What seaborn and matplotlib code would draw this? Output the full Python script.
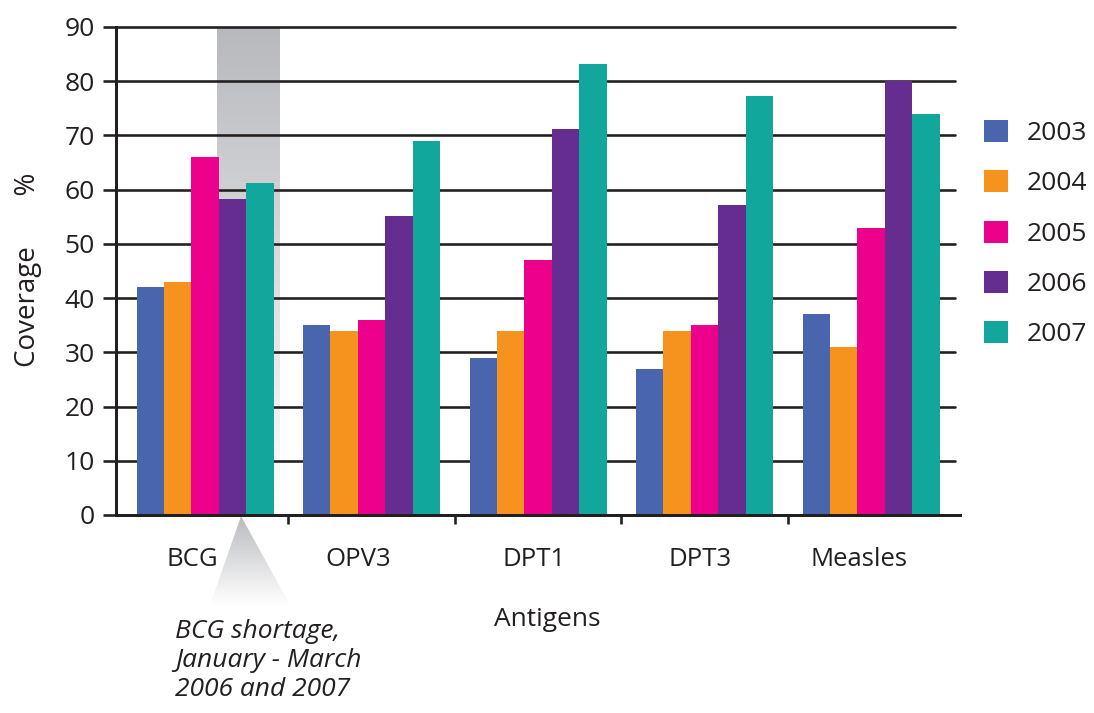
import numpy as np
import pandas as pd
import matplotlib
matplotlib.use("Agg")
import matplotlib.pyplot as plt
from matplotlib.patches import Polygon
from matplotlib.ticker import FixedLocator
from matplotlib.transforms import ScaledTranslation
import seaborn as sns

# Immunisation coverage (%) by antigen and year
antigens = ["BCG", "OPV3", "DPT1", "DPT3", "Measles"]
years = ["2003", "2004", "2005", "2006", "2007"]
cov_2003 = [42, 35, 29, 27, 37]
cov_2004 = [43, 34, 34, 34, 31]
cov_2005 = [66, 36, 47, 35, 53]
cov_2006 = [58.3, 55.2, 71.2, 57.2, 80]
cov_2007 = [61.2, 69, 83.2, 77.3, 74]
colors = ["#4865ad", "#f6921e", "#ec008c", "#662d91", "#12a79d"]

series = [cov_2003, cov_2004, cov_2005, cov_2006, cov_2007]
df = pd.DataFrame(
    [(a, y, v) for y, vals in zip(years, series) for a, v in zip(antigens, vals)],
    columns=["Antigen", "Year", "Coverage"],
)

sns.set_theme(style="white")
plt.rcParams["font.family"] = ["Open Sans", "DejaVu Sans"]
ink = "#231f20"
plt.rcParams["text.color"] = ink
plt.rcParams["axes.labelcolor"] = ink
plt.rcParams["xtick.color"] = ink
plt.rcParams["ytick.color"] = ink

W, H = 1094, 713
PX = 72 / 100  # points per pixel at 100 dpi
fig = plt.figure(figsize=(W / 100, H / 100), dpi=100, facecolor="white")
ax = fig.add_axes([116 / W, 1 - 515 / H, (955 - 116) / W, (515 - 27) / H])
ax.patch.set_alpha(0)

sns.barplot(data=df, x="Antigen", y="Coverage", hue="Year", palette=colors,
            width=0.823, saturation=1, linewidth=0, ax=ax, zorder=2)

# shaded column marking the BCG shortage
g = np.linspace(0, 1, 256)
top = np.array([184, 185, 189]) / 255
band = (top[None, :] * (1 - g[:, None]) + g[:, None]).reshape(256, 1, 3)
ax.imshow(band, extent=[0.07, 0.445, 0, 90], aspect="auto", zorder=0.2,
          interpolation="bilinear")

# pointer below the axis leading to the note (drawn on a full-figure layer)
under = fig.add_axes([0, 0, 1, 1], zorder=-1)
under.axis("off")
tri = Polygon([(0.216, -0.2), (0.03, -16.6), (0.51, -16.6)],
              closed=True, transform=ax.transData, facecolor="none", edgecolor="none")
top2 = np.array([186, 187, 191]) / 255
g2 = np.linspace(0, 1, 256)
tband = (top2[None, :] * (1 - g2[:, None]) + g2[:, None]).reshape(256, 1, 3)
im2 = under.imshow(tband, extent=[0.03, 0.51, -16.6, -0.2], aspect="auto",
                   interpolation="bilinear")
im2.set_transform(ax.transData)
im2.set_clip_path(tri)
under.set_xlim(0, 1)
under.set_ylim(0, 1)

ax.set_xlim(-0.535, 4.504)
ax.set_ylim(0, 90)
ax.set_yticks(range(0, 91, 10))
ax.yaxis.grid(True, color=ink, linewidth=2.6 * PX)
for gl in ax.get_ygridlines():
    gl.set_clip_on(False)
    gl.set_zorder(1)
ax.xaxis.grid(False)

for s in ["top", "right"]:
    ax.spines[s].set_visible(False)
for s in ["left", "bottom"]:
    ax.spines[s].set_color(ink)
    ax.spines[s].set_linewidth(3 * PX)
    ax.spines[s].set_zorder(3)
ax.spines["bottom"].set_bounds(-0.535, 4.535)
ax.spines["bottom"].set_clip_on(False)

ax.tick_params(axis="y", which="major", length=13 * PX, width=2.6 * PX,
               direction="out", labelsize=19, pad=6, left=True)
ax.tick_params(axis="x", which="major", length=0, labelsize=18.5, pad=23)
ax.xaxis.set_minor_locator(FixedLocator([0.5, 1.5, 2.5, 3.5]))
ax.tick_params(axis="x", which="minor", length=9 * PX, width=2.6 * PX,
               direction="out", bottom=True)

ax.set_xlabel("Antigens", fontsize=19)
ax.xaxis.set_label_coords((547 - 116) / 839, (515 - 620) / 488)
ax.xaxis.label.set_va("center")
ax.set_ylabel("Coverage       %", fontsize=20)
ax.yaxis.set_label_coords((28 - 116) / 839, (515 - 270) / 488)
ax.yaxis.label.set_va("center")

fig.text(175 / W, 1 - 619 / H, "BCG shortage,\nJanuary - March\n2006 and 2007",
         fontsize=19, style="italic", ha="left", va="top", linespacing=1.2)

leg = ax.legend(loc="upper left", bbox_to_anchor=(984 / W, 1 - 120 / H),
                bbox_transform=fig.transFigure, frameon=False, fontsize=19,
                handlelength=0.9, handleheight=0.9, handletextpad=0.73,
                labelspacing=0.92, borderaxespad=0, borderpad=0)
for t in leg.get_texts():
    t.set_color(ink)

# nudge category labels to sit where they are typeset
shifts = [-13, -13, -4, -5, -12]
for lbl, dx in zip(ax.get_xticklabels(), shifts):
    lbl.set_transform(lbl.get_transform() + ScaledTranslation(dx / 100, 0, fig.dpi_scale_trans))

fig.savefig("out.png", dpi=100, facecolor="white")
